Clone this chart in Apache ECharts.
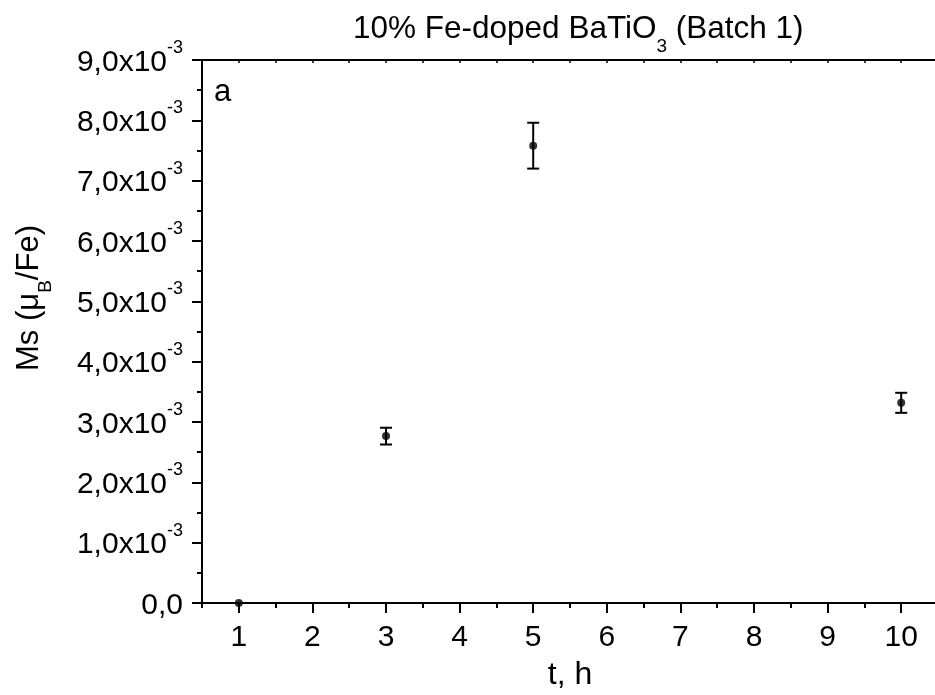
<!DOCTYPE html>
<html>
<head>
<meta charset="utf-8">
<script src="https://cdn.jsdelivr.net/npm/echarts@6/dist/echarts.min.js"></script>
<style>html,body{margin:0;padding:0;background:#fff}#c{width:935px;height:695px}</style>
</head>
<body>
<div id="c"></div>
<script>
const tHours = [1, 3, 5, 10];
const msValues = [0, 2.766e-3, 7.58e-3, 3.318e-3];
const msErrors = [0, 0.139e-3, 0.38e-3, 0.166e-3];
const xTickValues = [1, 2, 3, 4, 5, 6, 7, 8, 9, 10];
const xMinorTickValues = [0.5, 1.5, 2.5, 3.5, 4.5, 5.5, 6.5, 7.5, 8.5, 9.5, 10.5];
const yTickMantissas = ['0,0', '1,0', '2,0', '3,0', '4,0', '5,0', '6,0', '7,0', '8,0', '9,0'];
const yExponent = '-3';
const titleMain = '10% Fe-doped BaTiO';
const titleSub = '3';
const titleTail = ' (Batch 1)';

const FONT = '"Liberation Sans", Arial, sans-serif';
const chart = echarts.init(document.getElementById('c'), null, {renderer: 'canvas'});

const pointData = tHours.map((t, i) => [t, msValues[i]]);
const errData = tHours.map((t, i) => [t, msValues[i] - msErrors[i], msValues[i] + msErrors[i]]);

const option = {
  animation: false,
  backgroundColor: '#fff',
  textStyle: {fontFamily: FONT, color: '#000'},
  title: {
    text: titleMain + '{s|' + titleSub + '}' + titleTail,
    left: 348,
    top: -3,
    textStyle: {
      fontFamily: FONT, fontSize: 31.5, fontWeight: 'normal', color: '#000', lineHeight: 54,
      rich: {s: {fontFamily: FONT, fontSize: 19, color: '#000', verticalAlign: 'bottom', lineHeight: 54}}
    }
  },
  grid: {left: 202, top: 60, right: -3, bottom: 92, containLabel: false, outerBoundsMode: 'none'},
  xAxis: [
    {
      type: 'value', position: 'bottom', min: 0.5, max: 10.5, interval: 0.5,
      name: 't, h', nameLocation: 'middle', nameGap: 56,
      nameTextStyle: {fontFamily: FONT, fontSize: 32, color: '#000'},
      axisLine: {show: true, onZero: false, lineStyle: {color: '#000', width: 2}},
      axisTick: {show: true, inside: false, length: 10, customValues: xTickValues, lineStyle: {color: '#000', width: 2}},
      axisLabel: {show: true, customValues: xTickValues, fontFamily: FONT, fontSize: 30, color: '#000', margin: 20},
      splitLine: {show: false}
    },
    {
      type: 'value', position: 'bottom', min: 0.5, max: 10.5, interval: 0.5,
      axisLine: {show: false},
      axisTick: {show: true, inside: false, length: 5, customValues: xMinorTickValues, lineStyle: {color: '#000', width: 2}},
      axisLabel: {show: false},
      splitLine: {show: false}
    },
    {
      type: 'value', position: 'top', min: 0.5, max: 10.5, interval: 0.5,
      axisLine: {show: true, onZero: false, lineStyle: {color: '#000', width: 2}},
      axisTick: {show: true, inside: true, length: 3, lineStyle: {color: '#000', width: 1.5}},
      axisLabel: {show: false},
      splitLine: {show: false}
    }
  ],
  yAxis: {
    type: 'value', min: 0, max: 0.009, interval: 0.001,
    axisLine: {show: true, onZero: false, lineStyle: {color: '#000', width: 2}},
    axisTick: {show: true, inside: false, length: 10, lineStyle: {color: '#000', width: 2}},
    minorTick: {show: true, splitNumber: 2, length: 5, lineStyle: {color: '#000', width: 2}},
    axisLabel: {
      margin: 19,
      fontFamily: FONT, fontSize: 30, color: '#000',
      formatter: function (v, idx) {
        const k = Math.round(v / 0.001);
        if (k === 0) return '{m|' + yTickMantissas[0] + '}';
        return '{m|' + yTickMantissas[k] + 'x10}{e|' + yExponent + '}';
      },
      rich: {
        m: {fontFamily: FONT, fontSize: 30, color: '#000', lineHeight: 42, padding: [5, 0, 0, 0]},
        e: {fontFamily: FONT, fontSize: 18, color: '#000', verticalAlign: 'top', lineHeight: 42}
      }
    },
    splitLine: {show: false},
    minorSplitLine: {show: false}
  },
  graphic: [
    {
      type: 'text', x: 214, y: 77,
      style: {text: 'a', fontFamily: FONT, fontSize: 31, fill: '#000'}
    },
    {
      type: 'text', x: 29, y: 298, rotation: Math.PI / 2,
      style: {
        text: 'Ms (\u03bc{b|B}/Fe)', fontFamily: FONT, fontSize: 31, fill: '#000',
        align: 'center', verticalAlign: 'middle', lineHeight: 52,
        rich: {b: {fontFamily: FONT, fontSize: 19, fill: '#000', verticalAlign: 'bottom', lineHeight: 52}}
      }
    }
  ],
  series: [
    {
      type: 'custom',
      xAxisIndex: 0,
      data: errData,
      clip: false,
      renderItem: function (params, api) {
        const x = api.value(0), lo = api.value(1), hi = api.value(2);
        if (hi === lo) return null;
        const a = api.coord([x, lo]);
        const b = api.coord([x, hi]);
        const cap = 6;
        const st = {stroke: '#000', lineWidth: 2};
        return {
          type: 'group',
          children: [
            {type: 'line', shape: {x1: a[0], y1: a[1], x2: b[0], y2: b[1]}, style: st},
            {type: 'line', shape: {x1: a[0] - cap, y1: a[1], x2: a[0] + cap, y2: a[1]}, style: st},
            {type: 'line', shape: {x1: b[0] - cap, y1: b[1], x2: b[0] + cap, y2: b[1]}, style: st}
          ]
        };
      },
      z: 3
    },
    {
      type: 'scatter',
      xAxisIndex: 0,
      data: pointData,
      symbol: 'circle',
      symbolSize: 8,
      itemStyle: {color: '#000'},
      z: 4
    }
  ]
};
chart.setOption(option);
</script>
</body>
</html>
